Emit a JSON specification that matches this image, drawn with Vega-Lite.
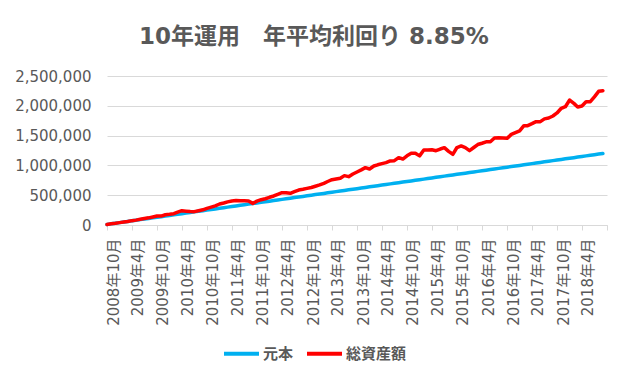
{
  "$schema": "https://vega.github.io/schema/vega-lite/v6.json",
  "width": 500,
  "height": 149,
  "autosize": {"type": "none"},
  "padding": {"left": 107, "top": 76, "right": 22, "bottom": 154},
  "background": "#ffffff",
  "title": {
    "text": "10年運用　年平均利回り 8.85%",
    "font": "DejaVu Sans, Noto Sans CJK JP",
    "fontSize": 23,
    "fontWeight": "bold",
    "color": "#595959",
    "anchor": "middle",
    "baseline": "bottom",
    "offset": -3,
    "dx": -43
  },
  "config": {
    "view": {"stroke": null},
    "font": "DejaVu Sans, Noto Sans CJK JP"
  },
  "data": {
    "values": [
      {"date": "2008-10-01", "元本": 10000, "総資産額": 10000},
      {"date": "2008-11-01", "元本": 20000, "総資産額": 20000},
      {"date": "2008-12-01", "元本": 30000, "総資産額": 28000},
      {"date": "2009-01-01", "元本": 40000, "総資産額": 40000},
      {"date": "2009-02-01", "元本": 50000, "総資産額": 50000},
      {"date": "2009-03-01", "元本": 60000, "総資産額": 58000},
      {"date": "2009-04-01", "元本": 70000, "総資産額": 73000},
      {"date": "2009-05-01", "元本": 80000, "総資産額": 82000},
      {"date": "2009-06-01", "元本": 90000, "総資産額": 95000},
      {"date": "2009-07-01", "元本": 100000, "総資産額": 108000},
      {"date": "2009-08-01", "元本": 110000, "総資産額": 120000},
      {"date": "2009-09-01", "元本": 120000, "総資産額": 135000},
      {"date": "2009-10-01", "元本": 130000, "総資産額": 151000},
      {"date": "2009-11-01", "元本": 140000, "総資産額": 150000},
      {"date": "2009-12-01", "元本": 150000, "総資産額": 172000},
      {"date": "2010-01-01", "元本": 160000, "総資産額": 180000},
      {"date": "2010-02-01", "元本": 170000, "総資産額": 190000},
      {"date": "2010-03-01", "元本": 180000, "総資産額": 215000},
      {"date": "2010-04-01", "元本": 190000, "総資産額": 240000},
      {"date": "2010-05-01", "元本": 200000, "総資産額": 232000},
      {"date": "2010-06-01", "元本": 210000, "総資産額": 225000},
      {"date": "2010-07-01", "元本": 220000, "総資産額": 224000},
      {"date": "2010-08-01", "元本": 230000, "総資産額": 240000},
      {"date": "2010-09-01", "元本": 240000, "総資産額": 255000},
      {"date": "2010-10-01", "元本": 250000, "総資産額": 280000},
      {"date": "2010-11-01", "元本": 260000, "総資産額": 300000},
      {"date": "2010-12-01", "元本": 270000, "総資産額": 320000},
      {"date": "2011-01-01", "元本": 280000, "総資産額": 352000},
      {"date": "2011-02-01", "元本": 290000, "総資産額": 370000},
      {"date": "2011-03-01", "元本": 300000, "総資産額": 388000},
      {"date": "2011-04-01", "元本": 310000, "総資産額": 403000},
      {"date": "2011-05-01", "元本": 320000, "総資産額": 410000},
      {"date": "2011-06-01", "元本": 330000, "総資産額": 405000},
      {"date": "2011-07-01", "元本": 340000, "総資産額": 405000},
      {"date": "2011-08-01", "元本": 350000, "総資産額": 403000},
      {"date": "2011-09-01", "元本": 360000, "総資産額": 363000},
      {"date": "2011-10-01", "元本": 370000, "総資産額": 400000},
      {"date": "2011-11-01", "元本": 380000, "総資産額": 425000},
      {"date": "2011-12-01", "元本": 390000, "総資産額": 440000},
      {"date": "2012-01-01", "元本": 400000, "総資産額": 465000},
      {"date": "2012-02-01", "元本": 410000, "総資産額": 487000},
      {"date": "2012-03-01", "元本": 420000, "総資産額": 515000},
      {"date": "2012-04-01", "元本": 430000, "総資産額": 542000},
      {"date": "2012-05-01", "元本": 440000, "総資産額": 540000},
      {"date": "2012-06-01", "元本": 450000, "総資産額": 531000},
      {"date": "2012-07-01", "元本": 460000, "総資産額": 560000},
      {"date": "2012-08-01", "元本": 470000, "総資産額": 587000},
      {"date": "2012-09-01", "元本": 480000, "総資産額": 600000},
      {"date": "2012-10-01", "元本": 490000, "総資産額": 615000},
      {"date": "2012-11-01", "元本": 500000, "総資産額": 630000},
      {"date": "2012-12-01", "元本": 510000, "総資産額": 650000},
      {"date": "2013-01-01", "元本": 520000, "総資産額": 672000},
      {"date": "2013-02-01", "元本": 530000, "総資産額": 699000},
      {"date": "2013-03-01", "元本": 540000, "総資産額": 730000},
      {"date": "2013-04-01", "元本": 550000, "総資産額": 760000},
      {"date": "2013-05-01", "元本": 560000, "総資産額": 772000},
      {"date": "2013-06-01", "元本": 570000, "総資産額": 783000},
      {"date": "2013-07-01", "元本": 580000, "総資産額": 828000},
      {"date": "2013-08-01", "元本": 590000, "総資産額": 811000},
      {"date": "2013-09-01", "元本": 600000, "総資産額": 855000},
      {"date": "2013-10-01", "元本": 610000, "総資産額": 890000},
      {"date": "2013-11-01", "元本": 620000, "総資産額": 925000},
      {"date": "2013-12-01", "元本": 630000, "総資産額": 962000},
      {"date": "2014-01-01", "元本": 640000, "総資産額": 940000},
      {"date": "2014-02-01", "元本": 650000, "総資産額": 990000},
      {"date": "2014-03-01", "元本": 660000, "総資産額": 1010000},
      {"date": "2014-04-01", "元本": 670000, "総資産額": 1030000},
      {"date": "2014-05-01", "元本": 680000, "総資産額": 1046000},
      {"date": "2014-06-01", "元本": 690000, "総資産額": 1075000},
      {"date": "2014-07-01", "元本": 700000, "総資産額": 1080000},
      {"date": "2014-08-01", "元本": 710000, "総資産額": 1130000},
      {"date": "2014-09-01", "元本": 720000, "総資産額": 1107000},
      {"date": "2014-10-01", "元本": 730000, "総資産額": 1160000},
      {"date": "2014-11-01", "元本": 740000, "総資産額": 1202000},
      {"date": "2014-12-01", "元本": 750000, "総資産額": 1205000},
      {"date": "2015-01-01", "元本": 760000, "総資産額": 1160000},
      {"date": "2015-02-01", "元本": 770000, "総資産額": 1258000},
      {"date": "2015-03-01", "元本": 780000, "総資産額": 1260000},
      {"date": "2015-04-01", "元本": 790000, "総資産額": 1262000},
      {"date": "2015-05-01", "元本": 800000, "総資産額": 1247000},
      {"date": "2015-06-01", "元本": 810000, "総資産額": 1275000},
      {"date": "2015-07-01", "元本": 820000, "総資産額": 1298000},
      {"date": "2015-08-01", "元本": 830000, "総資産額": 1235000},
      {"date": "2015-09-01", "元本": 840000, "総資産額": 1186000},
      {"date": "2015-10-01", "元本": 850000, "総資産額": 1300000},
      {"date": "2015-11-01", "元本": 860000, "総資産額": 1326000},
      {"date": "2015-12-01", "元本": 870000, "総資産額": 1298000},
      {"date": "2016-01-01", "元本": 880000, "総資産額": 1247000},
      {"date": "2016-02-01", "元本": 890000, "総資産額": 1300000},
      {"date": "2016-03-01", "元本": 900000, "総資産額": 1350000},
      {"date": "2016-04-01", "元本": 910000, "総資産額": 1372000},
      {"date": "2016-05-01", "元本": 920000, "総資産額": 1395000},
      {"date": "2016-06-01", "元本": 930000, "総資産額": 1398000},
      {"date": "2016-07-01", "元本": 940000, "総資産額": 1460000},
      {"date": "2016-08-01", "元本": 950000, "総資産額": 1465000},
      {"date": "2016-09-01", "元本": 960000, "総資産額": 1460000},
      {"date": "2016-10-01", "元本": 970000, "総資産額": 1454000},
      {"date": "2016-11-01", "元本": 980000, "総資産額": 1520000},
      {"date": "2016-12-01", "元本": 990000, "総資産額": 1550000},
      {"date": "2017-01-01", "元本": 1000000, "総資産額": 1580000},
      {"date": "2017-02-01", "元本": 1010000, "総資産額": 1667000},
      {"date": "2017-03-01", "元本": 1020000, "総資産額": 1667000},
      {"date": "2017-04-01", "元本": 1030000, "総資産額": 1700000},
      {"date": "2017-05-01", "元本": 1040000, "総資産額": 1734000},
      {"date": "2017-06-01", "元本": 1050000, "総資産額": 1734000},
      {"date": "2017-07-01", "元本": 1060000, "総資産額": 1780000},
      {"date": "2017-08-01", "元本": 1070000, "総資産額": 1795000},
      {"date": "2017-09-01", "元本": 1080000, "総資産額": 1829000},
      {"date": "2017-10-01", "元本": 1090000, "総資産額": 1880000},
      {"date": "2017-11-01", "元本": 1100000, "総資産額": 1958000},
      {"date": "2017-12-01", "元本": 1110000, "総資産額": 1985000},
      {"date": "2018-01-01", "元本": 1120000, "総資産額": 2097000},
      {"date": "2018-02-01", "元本": 1130000, "総資産額": 2041000},
      {"date": "2018-03-01", "元本": 1140000, "総資産額": 1980000},
      {"date": "2018-04-01", "元本": 1150000, "総資産額": 1997000},
      {"date": "2018-05-01", "元本": 1160000, "総資産額": 2069000},
      {"date": "2018-06-01", "元本": 1170000, "総資産額": 2069000},
      {"date": "2018-07-01", "元本": 1180000, "総資産額": 2150000},
      {"date": "2018-08-01", "元本": 1190000, "総資産額": 2243000},
      {"date": "2018-09-01", "元本": 1200000, "総資産額": 2254000}
    ]
  },
  "transform": [
    {"fold": ["元本", "総資産額"], "as": ["series", "value"]}
  ],
  "mark": {"type": "line", "strokeWidth": 3.5, "strokeCap": "round", "strokeJoin": "round"},
  "encoding": {
    "x": {
      "field": "date",
      "type": "temporal",
      "scale": {
        "type": "utc",
        "domain": [
          {"year": 2008, "month": 10, "date": 1, "utc": true},
          {"year": 2018, "month": 10, "date": 1, "utc": true}
        ]
      },
      "axis": {
        "title": null,
        "values": [
          {"year": 2008, "month": 10, "date": 1, "utc": true},
          {"year": 2009, "month": 4, "date": 1, "utc": true},
          {"year": 2009, "month": 10, "date": 1, "utc": true},
          {"year": 2010, "month": 4, "date": 1, "utc": true},
          {"year": 2010, "month": 10, "date": 1, "utc": true},
          {"year": 2011, "month": 4, "date": 1, "utc": true},
          {"year": 2011, "month": 10, "date": 1, "utc": true},
          {"year": 2012, "month": 4, "date": 1, "utc": true},
          {"year": 2012, "month": 10, "date": 1, "utc": true},
          {"year": 2013, "month": 4, "date": 1, "utc": true},
          {"year": 2013, "month": 10, "date": 1, "utc": true},
          {"year": 2014, "month": 4, "date": 1, "utc": true},
          {"year": 2014, "month": 10, "date": 1, "utc": true},
          {"year": 2015, "month": 4, "date": 1, "utc": true},
          {"year": 2015, "month": 10, "date": 1, "utc": true},
          {"year": 2016, "month": 4, "date": 1, "utc": true},
          {"year": 2016, "month": 10, "date": 1, "utc": true},
          {"year": 2017, "month": 4, "date": 1, "utc": true},
          {"year": 2017, "month": 10, "date": 1, "utc": true},
          {"year": 2018, "month": 4, "date": 1, "utc": true},
          {"year": 2018, "month": 10, "date": 1, "utc": true}
        ],
        "format": "%Y年%-m月",
        "labelExpr": "datum.value >= utc(2018, 8, 1) ? '' : datum.label",
        "labelAngle": 270,
        "labelFont": "DejaVu Sans, Noto Sans CJK JP",
        "labelFontSize": 15,
        "labelColor": "#595959",
        "labelPadding": 8,
        "labelOffset": 6,
        "labelOverlap": false,
        "labelBound": false,
        "labelFlush": false,
        "grid": false,
        "domainColor": "#D9D9D9",
        "domainWidth": 1,
        "tickColor": "#D9D9D9",
        "tickSize": 5,
        "tickWidth": 1
      }
    },
    "y": {
      "field": "value",
      "type": "quantitative",
      "scale": {"domain": [0, 2500000], "nice": false},
      "axis": {
        "title": null,
        "values": [0, 500000, 1000000, 1500000, 2000000, 2500000],
        "format": ",d",
        "labelFont": "DejaVu Sans, Noto Sans CJK JP",
        "labelFontSize": 15,
        "labelColor": "#595959",
        "labelPadding": 16,
        "domain": false,
        "ticks": false,
        "grid": true,
        "gridColor": "#D9D9D9",
        "gridWidth": 1
      }
    },
    "color": {
      "field": "series",
      "type": "nominal",
      "scale": {"domain": ["元本", "総資産額"], "range": ["#00B0F0", "#FF0000"]},
      "legend": {
        "title": null,
        "orient": "none",
        "direction": "horizontal",
        "legendX": 115,
        "legendY": 258,
        "padding": 0,
        "symbolType": "stroke",
        "symbolSize": 1225,
        "symbolStrokeWidth": 4,
        "labelFont": "Noto Sans CJK JP",
        "labelFontSize": 15,
        "labelFontWeight": "bold",
        "labelColor": "#595959",
        "labelOffset": 2,
        "columnPadding": 5
      }
    }
  }
}
